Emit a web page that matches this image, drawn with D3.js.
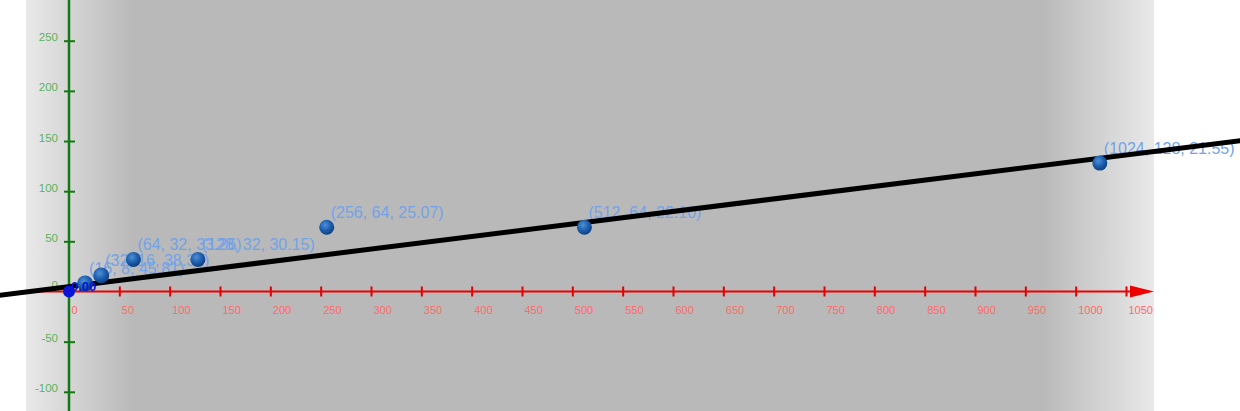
<!DOCTYPE html>
<html>
<head>
<meta charset="utf-8">
<script src="https://cdn.jsdelivr.net/npm/d3@7"></script>
<style>
  html, body { margin: 0; padding: 0; background: #fff; }
  svg { display: block; }
</style>
</head>
<body>
<svg width="1240" height="411"></svg>
<script>
// points (x, y, z)
const xs = [16, 32, 64, 128, 256, 512, 1024];
const ys = [8, 16, 32, 32, 64, 64, 128];
const zs = [45.81, 38.32, 33.26, 30.15, 25.07, 22.1, 21.55];

const xTicks = d3.range(0, 1051, 50);
const yTicks = [-100, -50, 0, 50, 100, 150, 200, 250];

// fitted line y = a*x + b
const lineCoef = [0.125, 4.8];
const lineDomain = [-80, 1180];

const svg = d3.select("svg");
const width = 1240;
const height = 411;

const x = d3.scaleLinear().domain([0, 1050]).range([69, 1126]);
const y = d3.scaleLinear().domain([0, 250]).range([291.5, 40.7]);

const fmt = (d) => String(d); // plain hyphen for negatives, like the original

const defs = svg.append("defs");

const bg = defs.append("linearGradient").attr("id", "bg").attr("gradientUnits", "userSpaceOnUse")
  .attr("x1", 26).attr("x2", 1154).attr("y1", 0).attr("y2", 0);
const L = 1128;
[[0, "#e9e9e9"], [(133 - 26) / L, "#b9b9b9"], [(1042 - 26) / L, "#b9b9b9"], [1, "#e9e9e9"]]
  .forEach(([o, c]) => bg.append("stop").attr("offset", o).attr("stop-color", c));

const ball = defs.append("radialGradient").attr("id", "ball")
  .attr("cx", "40%").attr("cy", "35%").attr("r", "65%");
[[0, "#4f8fd9"], [0.55, "#1f60ae"], [1, "#0e3f82"]]
  .forEach(([o, c]) => ball.append("stop").attr("offset", o).attr("stop-color", c));

svg.append("rect").attr("x", 26).attr("y", 0).attr("width", 1154 - 26).attr("height", height)
  .attr("fill", "url(#bg)");

// x axis (red)
const xAxis = svg.append("g").attr("transform", `translate(0,${y(0)})`)
  .call(d3.axisBottom(x).tickValues(xTicks).tickSize(0).tickPadding(0).tickFormat(fmt));
xAxis.select(".domain").remove();
xAxis.selectAll(".tick text")
  .attr("text-anchor", "start").attr("x", 2).attr("y", 22).attr("dy", null)
  .attr("fill", "#ff6a6a").attr("font-size", 11).attr("font-family", "Liberation Sans, Arial, sans-serif");
xAxis.selectAll(".tick").filter((d) => d > 0)
  .append("line").attr("y1", -5).attr("y2", 5).attr("stroke", "#e00000").attr("stroke-width", 2);
xAxis.append("line").attr("x1", 26).attr("x2", 1132).attr("stroke", "#ee0000").attr("stroke-width", 2);
xAxis.append("path").attr("d", "M1130,-6L1154,0L1130,6Z").attr("fill", "#ee0000");

// y axis (green)
const yAxis = svg.append("g").attr("transform", `translate(${x(0)},0)`)
  .call(d3.axisLeft(y).tickValues(yTicks).tickSize(0).tickPadding(0).tickFormat(fmt));
yAxis.select(".domain").remove();
yAxis.selectAll(".tick text")
  .attr("x", -11).attr("dy", (d) => (d === 0 ? "-0.25em" : "0"))
  .attr("fill", "#5cb35c").attr("font-size", 11.5).attr("font-family", "Liberation Sans, Arial, sans-serif");
yAxis.selectAll(".tick").filter((d) => d !== 0)
  .append("line").attr("x1", -5).attr("x2", 6).attr("stroke", "#137a13").attr("stroke-width", 2);
yAxis.append("line").attr("y1", 0).attr("y2", height).attr("stroke", "#137a13").attr("stroke-width", 2.5);

const pts = xs.map((v, i) => ({ x: v, y: ys[i], z: zs[i] }));

// point labels
svg.append("g").selectAll("text").data(pts).join("text")
  .attr("x", (d) => x(d.x) + 4)
  .attr("y", (d) => y(d.y) - 9)
  .attr("fill", "#72a3e8")
  .attr("font-size", 16)
  .attr("font-family", "Liberation Sans, Arial, sans-serif")
  .text((d) => `(${d.x}, ${d.y}, ${d.z.toFixed(2)})`);

// fitted line
svg.append("line")
  .attr("x1", x(lineDomain[0])).attr("y1", y(lineCoef[0] * lineDomain[0] + lineCoef[1]))
  .attr("x2", x(lineDomain[1])).attr("y2", y(lineCoef[0] * lineDomain[1] + lineCoef[1]))
  .attr("stroke", "#000").attr("stroke-width", 5);

// points
svg.append("g").selectAll("circle").data(pts).join("circle")
  .attr("cx", (d) => x(d.x)).attr("cy", (d) => y(d.y))
  .attr("r", (d) => (d.x < 40 ? 8 : 7.5))
  .attr("fill", "url(#ball)");

// origin point
svg.append("circle").attr("cx", x(0)).attr("cy", y(0)).attr("r", 6).attr("fill", "#0a14d6");
svg.append("text").attr("x", x(0) + 2).attr("y", y(0) - 1)
  .attr("fill", "#0a14d6").attr("font-size", 13).attr("font-weight", "bold")
  .attr("font-family", "Liberation Sans, Arial, sans-serif").text("0.00");
</script>
</body>
</html>
